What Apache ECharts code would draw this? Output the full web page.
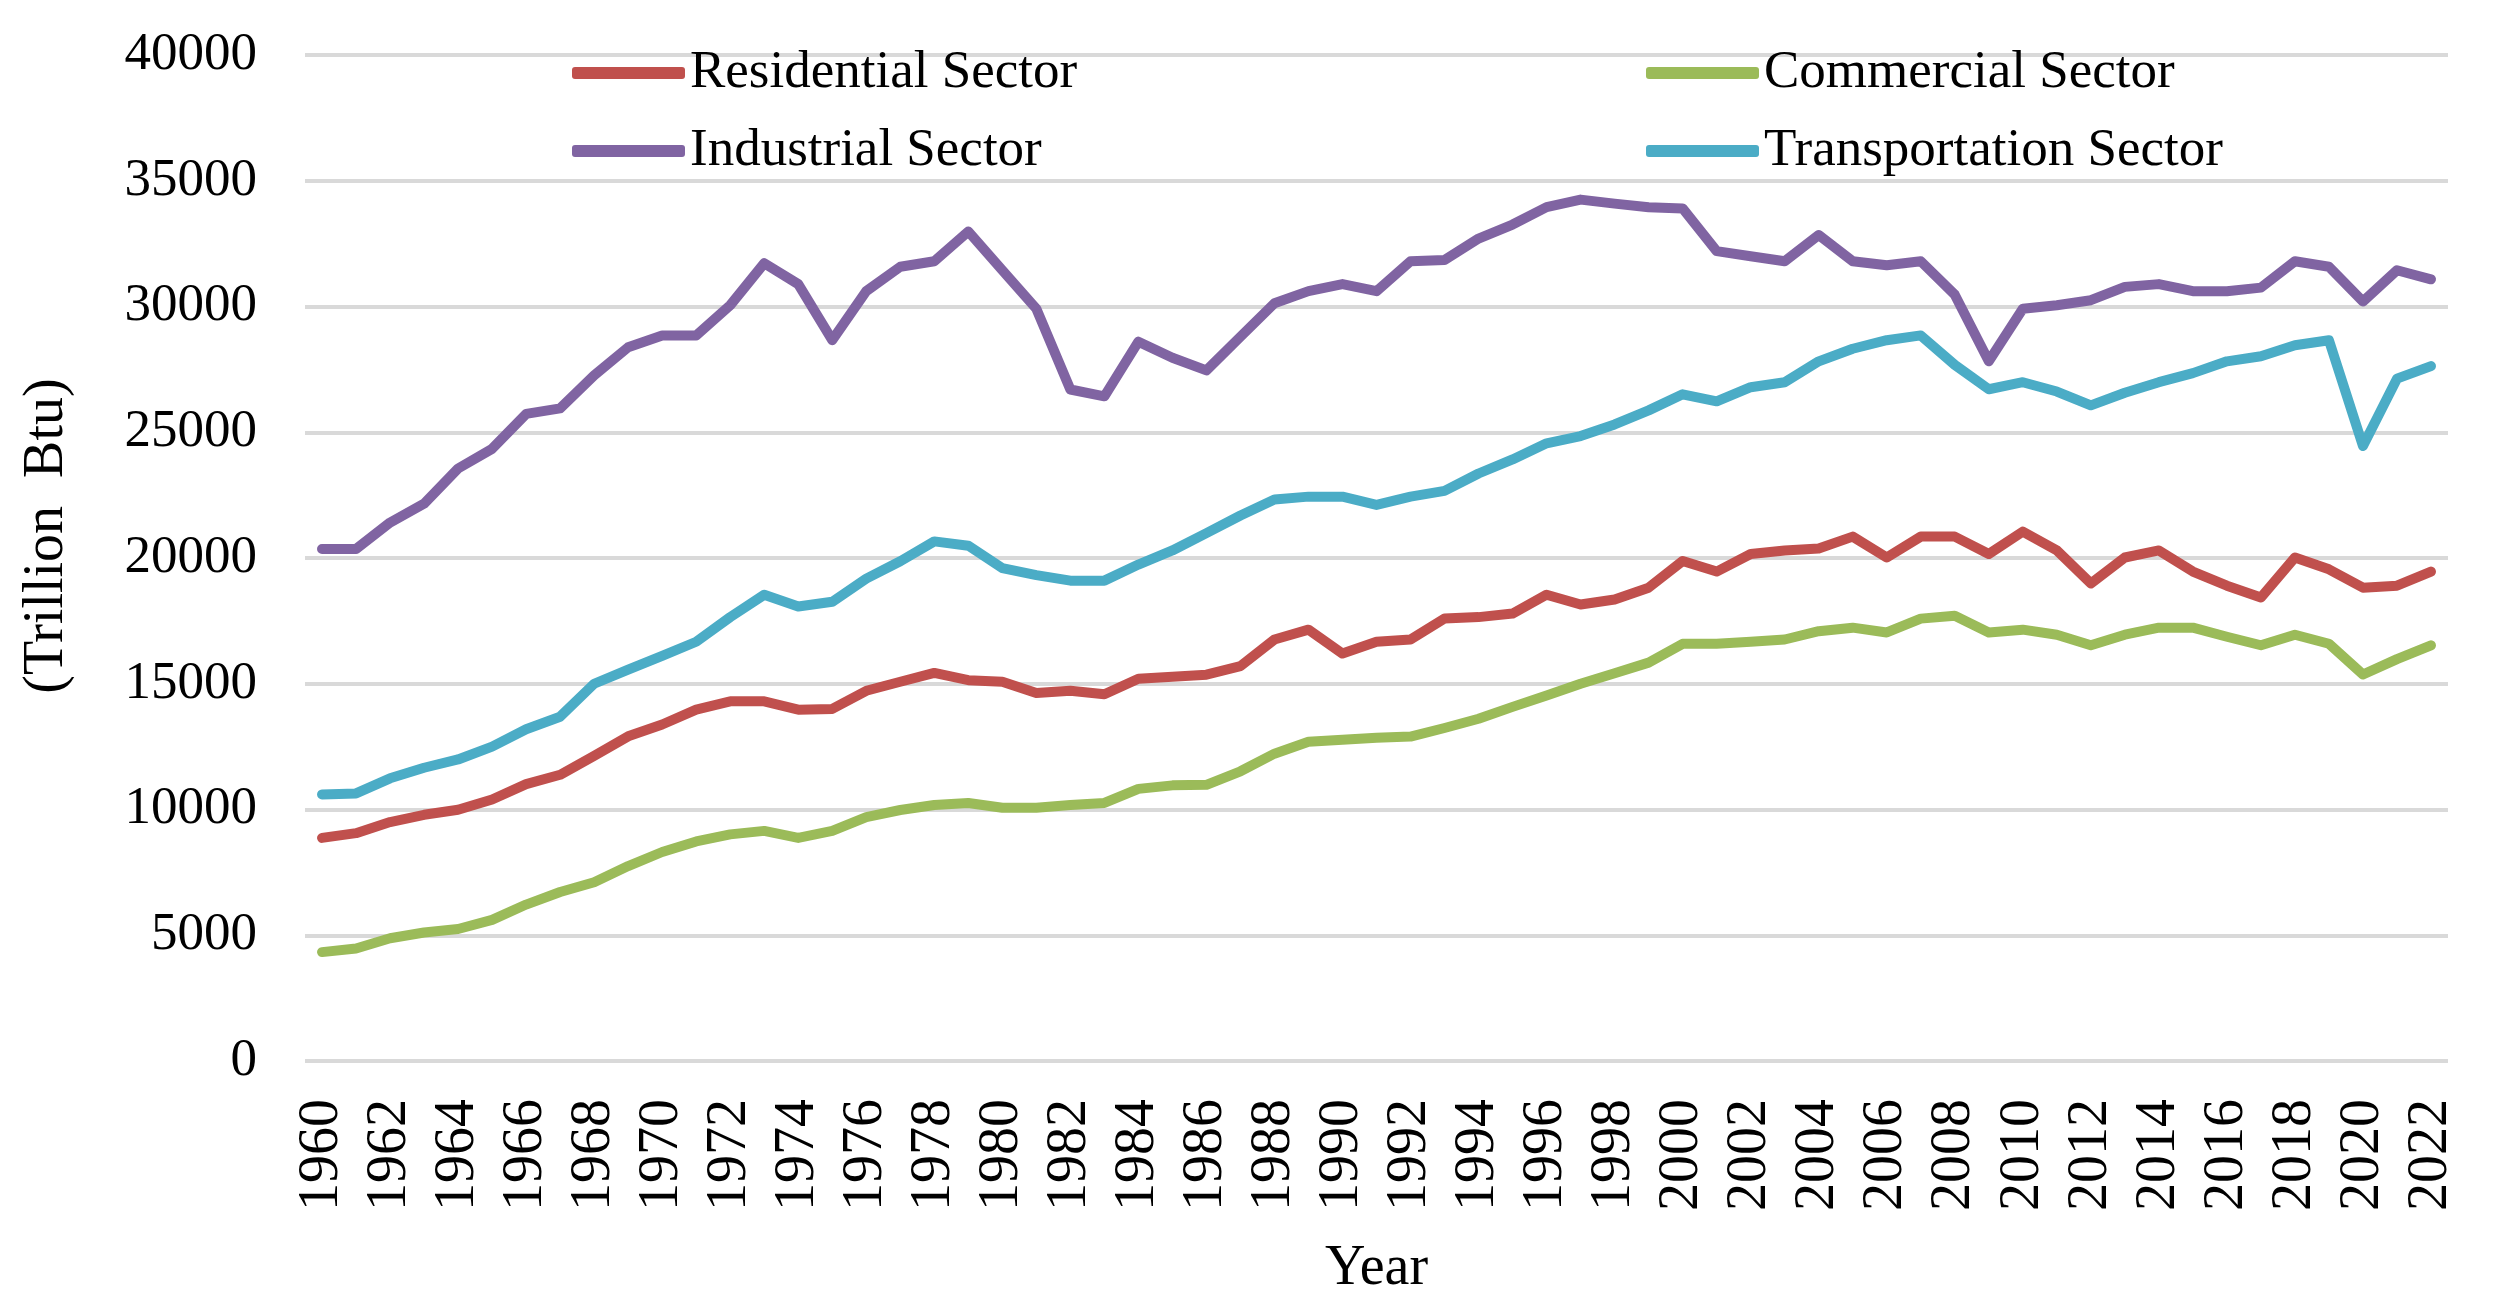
<!DOCTYPE html>
<html>
<head>
<meta charset="utf-8">
<script src="https://cdn.jsdelivr.net/npm/echarts@6/dist/echarts.min.js"></script>
<style>
html,body{margin:0;padding:0;background:#fff;}
#chart{width:2495px;height:1313px;}
</style>
</head>
<body>
<div id="chart"></div>
<script>
const years = ['1960','1961','1962','1963','1964','1965','1966','1967','1968','1969',
'1970','1971','1972','1973','1974','1975','1976','1977','1978','1979',
'1980','1981','1982','1983','1984','1985','1986','1987','1988','1989',
'1990','1991','1992','1993','1994','1995','1996','1997','1998','1999',
'2000','2001','2002','2003','2004','2005','2006','2007','2008','2009',
'2010','2011','2012','2013','2014','2015','2016','2017','2018','2019',
'2020','2021','2022'];

const residential = [8870,9060,9500,9790,9990,10400,11010,11380,12130,12910,
13380,13970,14300,14300,13970,14000,14720,15080,15430,15140,
15080,14630,14720,14580,15200,15280,15360,15700,16760,17150,
16200,16670,16760,17590,17650,17790,18540,18150,18350,18820,
19880,19460,20160,20300,20380,20850,20020,20850,20850,20160,
21050,20300,18990,20020,20300,19460,18900,18430,20020,19550,
18820,18900,19460];

const commercial = [4330,4470,4880,5110,5250,5610,6220,6720,7110,7750,
8310,8730,9010,9150,8870,9150,9700,9980,10180,10260,
10070,10070,10180,10260,10820,10960,10980,11520,12220,12690,
12770,12850,12900,13240,13610,14080,14530,15000,15420,15840,
16590,16590,16670,16760,17090,17230,17040,17590,17700,17040,
17150,16950,16530,16950,17230,17230,16870,16530,16950,16590,
15370,15980,16530];

const industrial = [20360,20360,21410,22160,23560,24340,25730,25950,27260,28380,
28850,28850,30050,31720,30890,28660,30610,31580,31800,32980,
31440,29910,26700,26430,28600,27960,27460,28800,30130,30610,
30890,30610,31800,31850,32700,33260,33950,34250,34090,33950,
33900,32200,32000,31800,32840,31800,31640,31800,30470,27820,
29910,30050,30250,30780,30890,30610,30610,30750,31800,31580,
30200,31440,31080];

const transportation = [10600,10640,11240,11660,11990,12500,13190,13690,15000,15560,
16110,16670,17650,18540,18070,18260,19180,19870,20660,20490,
19600,19320,19100,19100,19740,20300,20990,21690,22330,22440,
22440,22110,22440,22670,23360,23920,24560,24850,25310,25870,
26510,26230,26790,26990,27820,28320,28660,28850,27680,26710,
26990,26620,26070,26570,26990,27350,27820,28020,28460,28660,
24450,27130,27630];

const yTicks = [0,5000,10000,15000,20000,25000,30000,35000,40000];

const seriesNames = ['Residential Sector','Commercial Sector','Industrial Sector','Transportation Sector'];
const seriesColors = ['#C0504D','#9BBB59','#8064A2','#4BACC6'];
const seriesData = [residential, commercial, industrial, transportation];

const FONT = '"Liberation Serif", "Times New Roman", serif';

const chart = echarts.init(document.getElementById('chart'), null, {renderer:'canvas'});

const legendText = {fontFamily: FONT, fontSize: 53, color: '#000', lineHeight: 56};

chart.setOption({
  animation: false,
  backgroundColor: '#fff',
  grid: {left: 305, right: 47, top: 55, bottom: 252, containLabel: false},
  legend: [
    {data: ['Residential Sector','Industrial Sector'], orient: 'vertical', left: 572, top: 45,
     itemWidth: 113, itemHeight: 12, itemGap: 22, padding: 0, icon: 'roundRect', textStyle: legendText},
    {data: ['Commercial Sector','Transportation Sector'], orient: 'vertical', left: 1646, top: 45,
     itemWidth: 113, itemHeight: 12, itemGap: 22, padding: 0, icon: 'roundRect', textStyle: legendText}
  ],
  xAxis: {
    type: 'category',
    data: years,
    boundaryGap: true,
    name: 'Year',
    nameLocation: 'middle',
    nameGap: 180,
    nameTextStyle: {fontFamily: FONT, fontSize: 56, color: '#000'},
    axisLine: {show: false},
    axisTick: {show: false},
    axisLabel: {rotate: 90, interval: 1, margin: 38, fontFamily: FONT, fontSize: 56, color: '#000'},
    splitLine: {show: false}
  },
  yAxis: {
    type: 'value',
    min: yTicks[0],
    max: yTicks[yTicks.length-1],
    interval: 5000,
    name: '(Trillion  Btu)',
    nameLocation: 'middle',
    nameGap: 230,
    nameRotate: 90,
    nameTextStyle: {fontFamily: FONT, fontSize: 56, color: '#000', padding: [0,0,0,44]},
    axisLine: {show: false},
    axisTick: {show: false},
    axisLabel: {margin: 48, fontFamily: FONT, fontSize: 53, color: '#000', formatter: v => String(v)},
    splitLine: {show: true, lineStyle: {color: '#D9D9D9', width: 4}}
  },
  series: seriesNames.map((n, i) => ({
    name: n,
    type: 'line',
    data: seriesData[i],
    symbol: 'none',
    smooth: false,
    color: seriesColors[i],
    lineStyle: {width: 10, color: seriesColors[i], join: 'round', cap: 'round'},
    z: 2
  }))
});
</script>
</body>
</html>
